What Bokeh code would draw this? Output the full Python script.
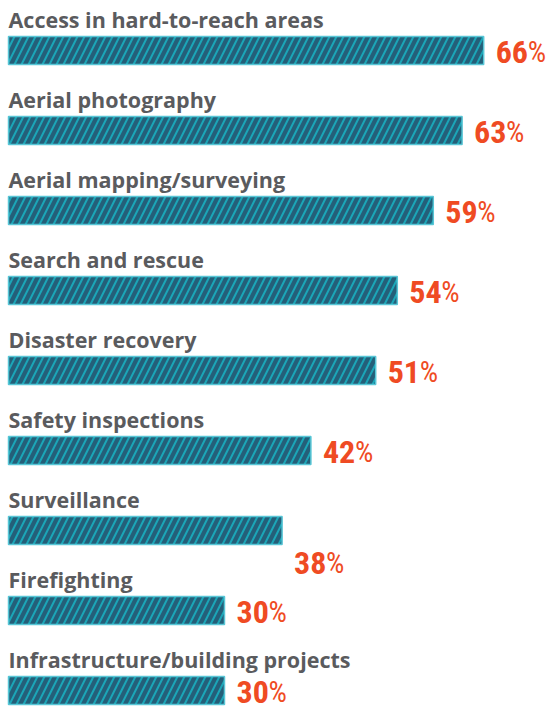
from bokeh.plotting import figure
from bokeh.models import ColumnDataSource, Range1d
from bokeh.core.properties import value
from bokeh.embed import file_html
from bokeh.resources import INLINE

categories = [
    "Access in hard-to-reach areas",
    "Aerial photography",
    "Aerial mapping/surveying",
    "Search and rescue",
    "Disaster recovery",
    "Safety inspections",
    "Surveillance",
    "Firefighting",
    "Infrastructure/building projects",
]
values = [66, 63, 59, 54, 51, 42, 38, 30, 30]
value_labels = ["66", "63", "59", "54", "51", "42", "38", "30", "30"]

rows = list(range(len(categories)))
# percentage label offset (px): level with its bar, Surveillance label dropped below its bar
pct_yoff = [1 if c != "Surveillance" else 32 for c in categories]

src = ColumnDataSource(dict(
    row=rows, cat=categories, val=values, num=value_labels,
    pct=["%"] * len(rows), pyoff=pct_yoff,
))

W, H = 547, 706
PX_PER_PCT = 7.2
ROW_PX = 80.0
LEFT_PX = 8
TOP_ROW_PX = 50

p = figure(width=W, height=H, output_backend="svg", toolbar_location=None,
           x_range=Range1d(-LEFT_PX / PX_PER_PCT, (W - LEFT_PX) / PX_PER_PCT),
           y_range=Range1d((H - TOP_ROW_PX) / ROW_PX, -TOP_ROW_PX / ROW_PX),
           min_border=0)
p.axis.visible = False
p.grid.visible = False
p.outline_line_color = None
p.background_fill_color = "#ffffff"
p.border_fill_color = "#ffffff"

p.hbar(y="row", left=0, right="val", height=28 / ROW_PX, source=src,
       fill_color="#245f79", line_color="#58c6d6", line_width=1.5,
       hatch_pattern="/", hatch_color="#1ba6b8", hatch_scale=14, hatch_weight=2)

p.text(x=0, y="row", text="cat", source=src, y_offset=-31,
       text_font=value("Open Sans"), text_font_style="bold",
       text_font_size="21.5px", text_color="#5a5b5e",
       text_baseline="alphabetic", text_align="left")

p.text(x="val", y="row", text="num", source=src, x_offset=12, y_offset="pyoff",
       text_font=value("Roboto Condensed"), text_font_style="bold",
       text_font_size="32px", text_color="#ef4b23",
       text_baseline="alphabetic", text_align="left")
p.text(x="val", y="row", text="pct", source=src, x_offset=44, y_offset="pyoff",
       text_font=value("Roboto Condensed"), text_font_style="normal",
       text_font_size="29px", text_color="#ef4b23",
       text_baseline="alphabetic", text_align="left")

open("out.html", "w").write(file_html(p, INLINE))
